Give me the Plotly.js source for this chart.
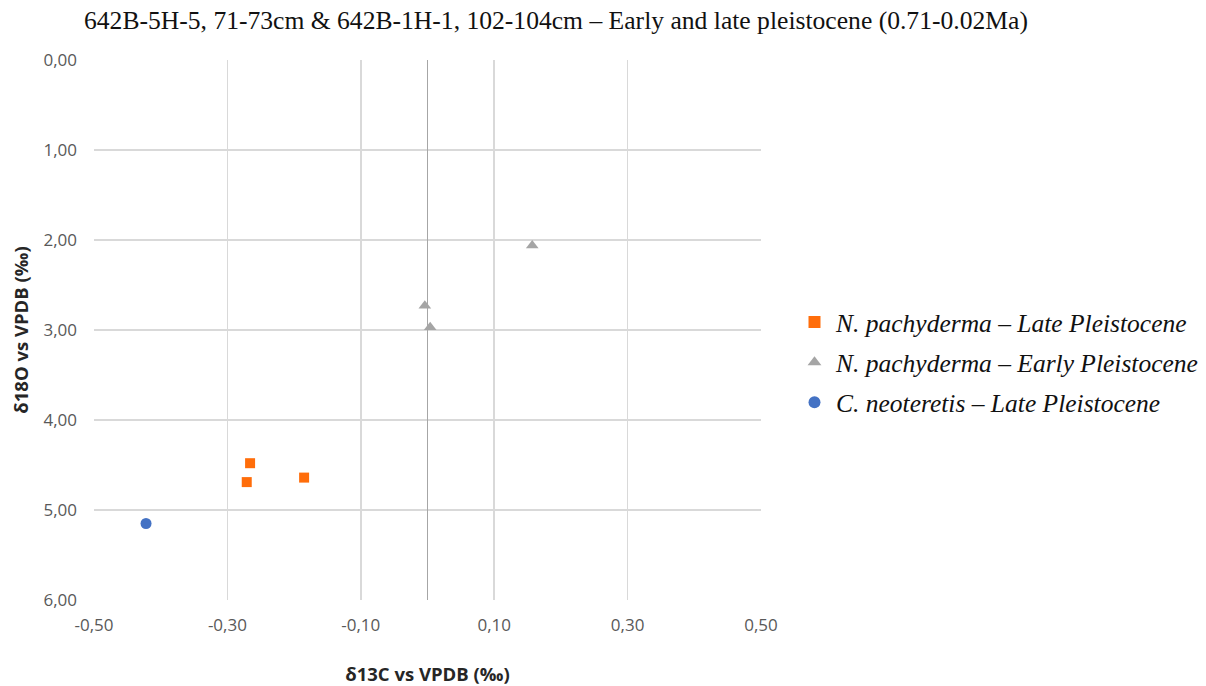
<!DOCTYPE html>
<html>
<head>
<meta charset="utf-8">
<script src="https://cdn.plot.ly/plotly-3.0.1.min.js"></script>
<style>html,body{margin:0;padding:0;background:#fff;}#chart{width:1206px;height:686px;}</style>
</head>
<body>
<div id="chart"></div>
<script>
const titleText = "642B-5H-5, 71-73cm &amp; 642B-1H-1, 102-104cm – Early and late pleistocene (0.71-0.02Ma)";
const seriesNames = ["N. pachyderma – Late Pleistocene", "N. pachyderma – Early Pleistocene", "C. neoteretis – Late Pleistocene"];
const lateNpX = [-0.266, -0.271, -0.185];
const lateNpY = [4.48, 4.69, 4.64];
const earlyNpX = [0.157, -0.004, 0.004];
const earlyNpY = [2.06, 2.73, 2.97];
const cneoX = [-0.422];
const cneoY = [5.15];
const xTicks = [-0.5, -0.3, -0.1, 0.1, 0.3, 0.5];
const yTicks = [0, 1, 2, 3, 4, 5, 6];

const fmt = v => v.toFixed(2).replace('.', ',');

const traces = [
  {x: lateNpX, y: lateNpY, mode: 'markers', type: 'scatter', name: seriesNames[0], legendgroup: 'a',
   marker: {symbol: 'square', size: 10, color: '#FF6D0A'}},
  {x: earlyNpX, y: earlyNpY, mode: 'markers', type: 'scatter', name: seriesNames[1], legendgroup: 'b',
   marker: {symbol: 'triangle-up', size: 11, color: '#A5A5A5'}},
  {x: cneoX, y: cneoY, mode: 'markers', type: 'scatter', name: seriesNames[2], legendgroup: 'c',
   marker: {symbol: 'circle', size: 11, color: '#4472C4'}}
];

const tickFont = {family: 'Open Sans, sans-serif', size: 17, color: '#595959'};
const axTitleFont = {family: 'Open Sans, sans-serif', size: 18.5, color: '#262626', weight: 'bold'};

const layout = {
  width: 1206, height: 686,
  paper_bgcolor: '#fff', plot_bgcolor: '#fff',
  margin: {l: 94, r: 445, t: 60, b: 86, autoexpand: false},
  title: {text: titleText, font: {family: 'Liberation Serif, Times New Roman, serif', size: 25.6, color: '#111'},
          x: 84/1206, xanchor: 'left', xref: 'container', y: 1 - 20/686, yanchor: 'middle', yref: 'container'},
  xaxis: {range: [-0.5, 0.5], tickvals: xTicks, ticktext: xTicks.map(fmt), showgrid: true, gridcolor: '#D9D9D9', gridwidth: 1.5,
          zeroline: true, zerolinecolor: '#A6A6A6', zerolinewidth: 1.5, showline: false, ticks: '',
          ticklabelstandoff: 13, tickfont: tickFont,
          title: {text: 'δ13C vs VPDB (‰)', standoff: 33, font: axTitleFont}},
  yaxis: {range: [6, 0], tickvals: yTicks, ticktext: yTicks.map(fmt), showgrid: true, gridcolor: '#D9D9D9', gridwidth: 1.5,
          zeroline: false, showline: false, ticks: '',
          ticklabelstandoff: 16, tickfont: tickFont,
          title: {text: 'δ18O vs VPDB (‰)', standoff: 9, font: axTitleFont}},
  showlegend: true,
  legend: {xref: 'container', x: 793/1206, xanchor: 'left', y: 0.44, yanchor: 'middle', bgcolor: 'rgba(0,0,0,0)',
           font: {family: 'Liberation Serif, Times New Roman, serif', size: 25.5, color: '#111', style: 'italic'},
           tracegroupgap: 4, itemsizing: 'constant', itemwidth: 33}
};

Plotly.newPlot('chart', traces, layout, {displayModeBar: false, staticPlot: true});
</script>
</body>
</html>
